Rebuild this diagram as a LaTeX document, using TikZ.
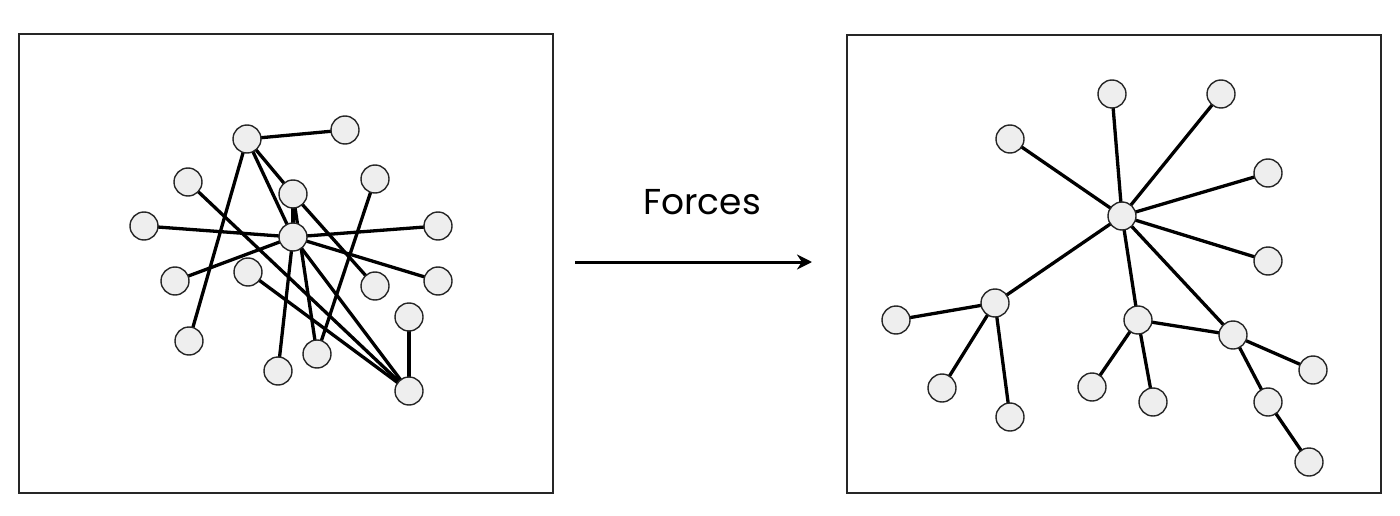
\documentclass[tikz,border=0pt]{standalone}
\usepackage{fontspec}
\setmainfont{Poppins}
\usetikzlibrary{arrows.meta,backgrounds}
\definecolor{nodefill}{HTML}{EEEEEE}
\tikzset{
  vert/.style={circle,draw=black!85,line width=1.4pt,fill=nodefill,minimum size=28pt,inner sep=0pt},
  edge/.style={line width=3.3pt,black},
  frame/.style={draw=black!85,line width=2.2pt},
}
\begin{document}
\begin{tikzpicture}[x=1pt,y=-1pt]
\useasboundingbox (0,0) rectangle (1400,516);
\draw[frame] (19,34) rectangle (553,493);
\draw[frame] (847,35) rectangle (1381,493);
% left graph
\node[vert] (A) at (247,139) {};
\node[vert] (B) at (345,130) {};
\node[vert] (C) at (188,182) {};
\node[vert] (D) at (293,194) {};
\node[vert] (E) at (375,179) {};
\node[vert] (F) at (144,226) {};
\node[vert] (G) at (293,237) {};
\node[vert] (H) at (438,226) {};
\node[vert] (I) at (175,281) {};
\node[vert] (J) at (248,272) {};
\node[vert] (K) at (375,286) {};
\node[vert] (L) at (438,281) {};
\node[vert] (M) at (409,317) {};
\node[vert] (N) at (189,341) {};
\node[vert] (O) at (317,354) {};
\node[vert] (P) at (278,371) {};
\node[vert] (Q) at (409,391) {};
% right graph
\node[vert] (R0) at (1122,216) {};
\node[vert] (R1) at (1112,94) {};
\node[vert] (R2) at (1221,94) {};
\node[vert] (R3) at (1010,139) {};
\node[vert] (R4) at (1268,173) {};
\node[vert] (R5) at (1268,261) {};
\node[vert] (R6) at (995,303) {};
\node[vert] (R7) at (896,320) {};
\node[vert] (R8) at (942,388) {};
\node[vert] (R9) at (1010,417) {};
\node[vert] (R10) at (1138,320) {};
\node[vert] (R11) at (1233,335) {};
\node[vert] (R12) at (1092,387) {};
\node[vert] (R13) at (1153,402) {};
\node[vert] (R14) at (1313,370) {};
\node[vert] (R15) at (1268,402) {};
\node[vert] (R16) at (1309,462) {};
% arrow and label
\coordinate (S) at (575,262);
\coordinate (T) at (812,262);
\draw[line width=3pt,-{Stealth[length=15pt,width=15pt]}] (S) -- (T);
\node[font=\fontsize{36}{40}\selectfont,anchor=base] (lbl) at (702,214) {Forces};
\begin{pgfonlayer}{background}
\foreach \a/\b in {A/B,A/N,A/D,A/G,D/G,D/O,D/K,C/Q,F/G,G/H,G/I,G/L,G/P,G/Q,E/O,J/Q,M/Q,
  R0/R1,R0/R2,R0/R3,R0/R4,R0/R5,R0/R6,R0/R10,R0/R11,R6/R7,R6/R8,R6/R9,R10/R11,R10/R12,R10/R13,R11/R14,R11/R15,R15/R16}
  \draw[edge] (\a.center) -- (\b.center);
\end{pgfonlayer}
\end{tikzpicture}
\end{document}
